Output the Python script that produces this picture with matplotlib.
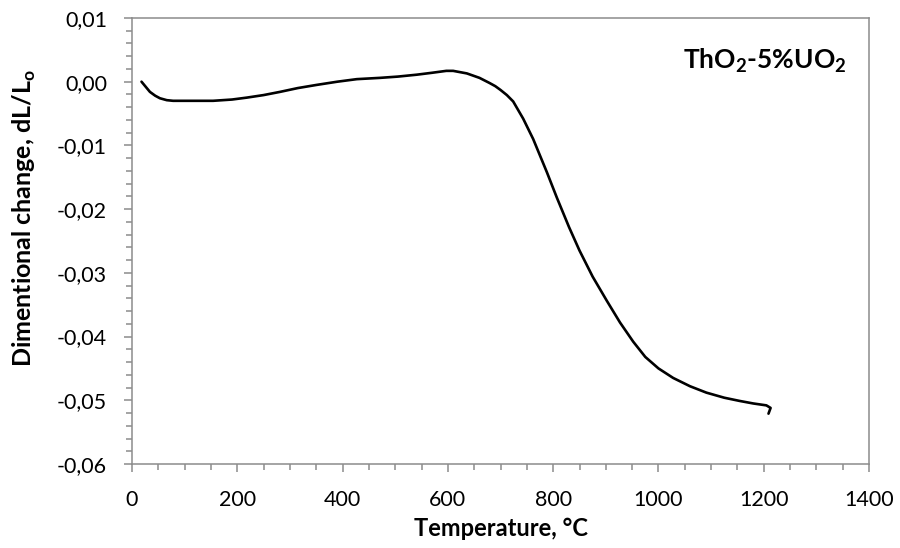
import matplotlib
matplotlib.use("Agg")
import matplotlib.pyplot as plt
from matplotlib.ticker import MultipleLocator, FixedLocator, FixedFormatter

plt.rcParams["font.family"] = ["Lato", "DejaVu Sans"]
plt.rcParams["mathtext.fontset"] = "custom"
plt.rcParams["mathtext.rm"] = "Lato"
plt.rcParams["mathtext.bf"] = "Lato:bold"

# Dilatometry curve: temperature (°C) vs relative length change
temperature = [18, 26, 34, 44, 53, 66, 78, 110, 154, 190, 218, 250, 281, 315, 351,
               390, 427, 471, 505, 541, 570, 597, 610, 636, 660, 679, 690, 700,
               712, 724, 743, 762, 788, 807, 830, 850, 875, 902, 927, 952, 975,
               1000, 1028, 1060, 1091, 1125, 1154, 1180, 1205, 1213, 1209]
dl_over_l0 = [0.0000, -0.0008, -0.0016, -0.0022, -0.0026, -0.0029, -0.0030, -0.0030,
              -0.0030, -0.0028, -0.0025, -0.0021, -0.0016, -0.0010, -0.0005,
              -0.0000, 0.0004, 0.0006, 0.0008, 0.0011, 0.0014, 0.0017, 0.0017,
              0.0013, 0.0006, -0.0002, -0.0007, -0.0013, -0.0021, -0.0031,
              -0.0058, -0.0090, -0.0142, -0.0182, -0.0228, -0.0265, -0.0306,
              -0.0344, -0.0378, -0.0408, -0.0432, -0.0450, -0.0465, -0.0478,
              -0.0488, -0.0496, -0.0501, -0.0505, -0.0508, -0.0512, -0.0521]

x_ticks = [0, 200, 400, 600, 800, 1000, 1200, 1400]
y_ticks = [0.01, 0.00, -0.01, -0.02, -0.03, -0.04, -0.05, -0.06]
y_tick_labels = ["0,01", "0,00", "-0,01", "-0,02", "-0,03", "-0,04", "-0,05", "-0,06"]

fig = plt.figure(figsize=(9.0, 5.48), dpi=100)
ax = fig.add_axes([0.1467, 0.1533, 0.8189, 0.8139])

ax.plot(temperature, dl_over_l0, color="black", linewidth=1.9,
        solid_capstyle="round", solid_joinstyle="round")

ax.set_xlim(0, 1400)
ax.set_ylim(-0.06, 0.01)
ax.xaxis.set_major_locator(FixedLocator(x_ticks))
ax.xaxis.set_minor_locator(MultipleLocator(50))
ax.yaxis.set_major_locator(FixedLocator(y_ticks))
ax.yaxis.set_major_formatter(FixedFormatter(y_tick_labels))
ax.yaxis.set_minor_locator(MultipleLocator(0.002))

grey = "#8c8c8c"
for sp in ax.spines.values():
    sp.set_color(grey)
    sp.set_linewidth(1.1)

ax.tick_params(which="major", direction="out", length=6, width=1.1, color=grey,
               labelsize=15.5, labelcolor="black")
ax.tick_params(which="minor", direction="out", length=4, width=1.1, color=grey)
ax.tick_params(axis="y", which="major", pad=12)
ax.tick_params(axis="x", which="major", pad=13)

ax.set_xlabel("Temperature, °C", fontsize=17, fontweight="bold", labelpad=5)
ax.set_ylabel("Dimentional change, dL/L$_\\mathbf{o}$", fontsize=18,
              fontweight="bold", va="center")
ax.yaxis.set_label_coords(-0.1465, 0.552)

ax.text(0.97, 0.905, "ThO$_\\mathbf{2}$-5%UO$_\\mathbf{2}$", transform=ax.transAxes,
        ha="right", va="center", fontsize=19, fontweight="bold")

fig.savefig("out.png", dpi=100)
